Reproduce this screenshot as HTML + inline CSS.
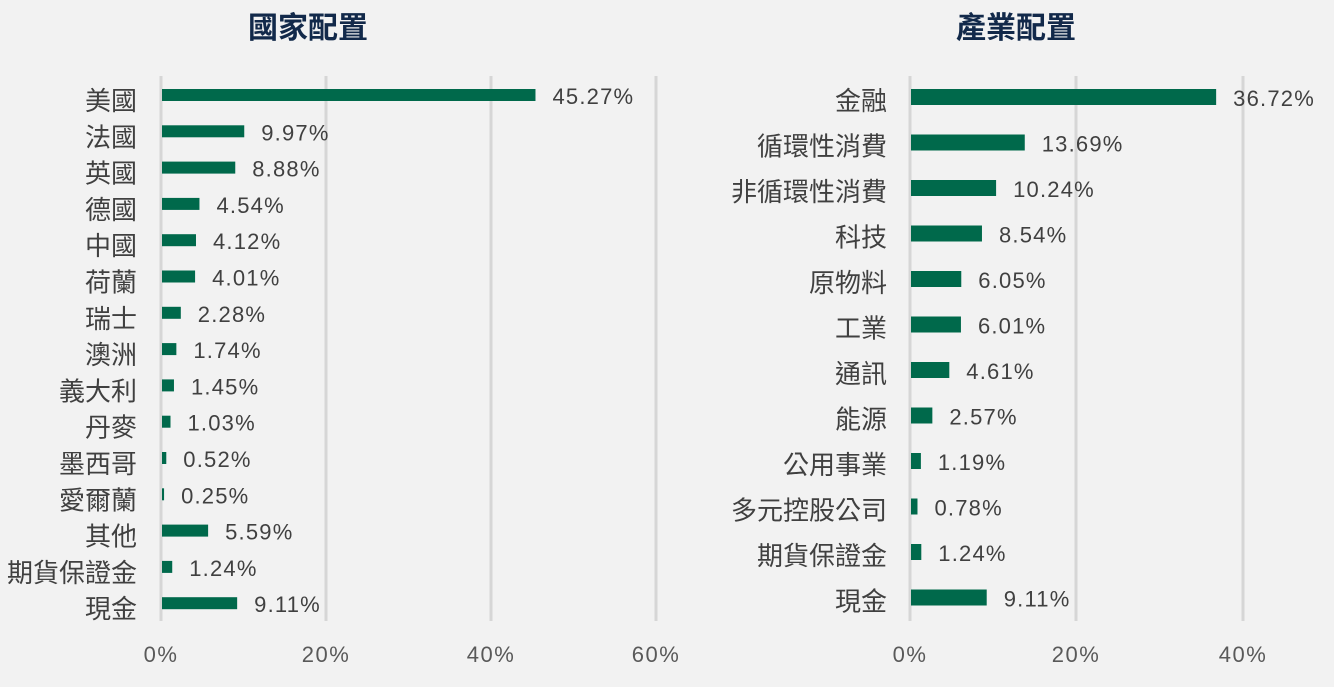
<!DOCTYPE html><html><head><meta charset="utf-8"><style>
body{margin:0;background:#f2f2f2}
svg{display:block}
text{font-family:"Liberation Sans","Noto Sans CJK TC",sans-serif;fill:#404040;font-size:21px}
.t{font-size:30px;font-weight:bold;fill:#12294a}
.c{text-anchor:end;font-size:26px}
.v{font-size:22px;letter-spacing:1.2px}
.a{text-anchor:middle;fill:#595959;font-size:22px;letter-spacing:1.5px}
</style></head><body>
<svg width="1334" height="687" xmlns="http://www.w3.org/2000/svg">
<rect width="1334" height="687" fill="#f2f2f2"/>
<text class="t" x="308" y="38" text-anchor="middle">國家配置</text>
<text class="t" x="1016" y="38" text-anchor="middle">產業配置</text>
<g stroke="#d6d6d6" stroke-width="3">
<line x1="161" y1="76" x2="161" y2="621"/><line x1="326" y1="76" x2="326" y2="621"/><line x1="491" y1="76" x2="491" y2="621"/><line x1="656" y1="76" x2="656" y2="621"/>
<line x1="910" y1="76" x2="910" y2="621"/><line x1="1076" y1="76" x2="1076" y2="621"/><line x1="1243" y1="76" x2="1243" y2="621"/>
</g>
<g>
<text class="a" x="161" y="662">0%</text><text class="a" x="326" y="662">20%</text><text class="a" x="491" y="662">40%</text><text class="a" x="656" y="662">60%</text>
<text class="a" x="910" y="662">0%</text><text class="a" x="1076" y="662">20%</text><text class="a" x="1243" y="662">40%</text>
</g>
<g id="L"></g><g id="R"></g>
</svg>
<script>
var ns="http://www.w3.org/2000/svg";
function add(g,tag,attrs,txt){var e=document.createElementNS(ns,tag);for(var k in attrs)e.setAttribute(k,attrs[k]);if(txt)e.textContent=txt;g.appendChild(e);}
var L=[["美國",45.27],["法國",9.97],["英國",8.88],["德國",4.54],["中國",4.12],["荷蘭",4.01],["瑞士",2.28],["澳洲",1.74],["義大利",1.45],["丹麥",1.03],["墨西哥",0.52],["愛爾蘭",0.25],["其他",5.59],["期貨保證金",1.24],["現金",9.11]];
var R=[["金融",36.72],["循環性消費",13.69],["非循環性消費",10.24],["科技",8.54],["原物料",6.05],["工業",6.01],["通訊",4.61],["能源",2.57],["公用事業",1.19],["多元控股公司",0.78],["期貨保證金",1.24],["現金",9.11]];
var gl=document.getElementById("L"),gr=document.getElementById("R");
L.forEach(function(d,i){var y=95+i*36.3;var w=d[1]*8.25;
add(gl,"rect",{x:162,y:y-6,width:Math.max(w,1.5),height:12,fill:"#00694b"});
add(gl,"text",{"class":"c",x:137,y:y+15},d[0]);
add(gl,"text",{"class":"v",x:162+w+17,y:y+9},d[1].toFixed(2)+"%");});
R.forEach(function(d,i){var y=97+i*45.5;var w=d[1]*8.31;
add(gr,"rect",{x:911,y:y-8,width:Math.max(w,4),height:16,fill:"#00694b"});
add(gr,"text",{"class":"c",x:887,y:y+13},d[0]);
add(gr,"text",{"class":"v",x:911+w+17,y:y+9},d[1].toFixed(2)+"%");});
</script>
</body></html>
